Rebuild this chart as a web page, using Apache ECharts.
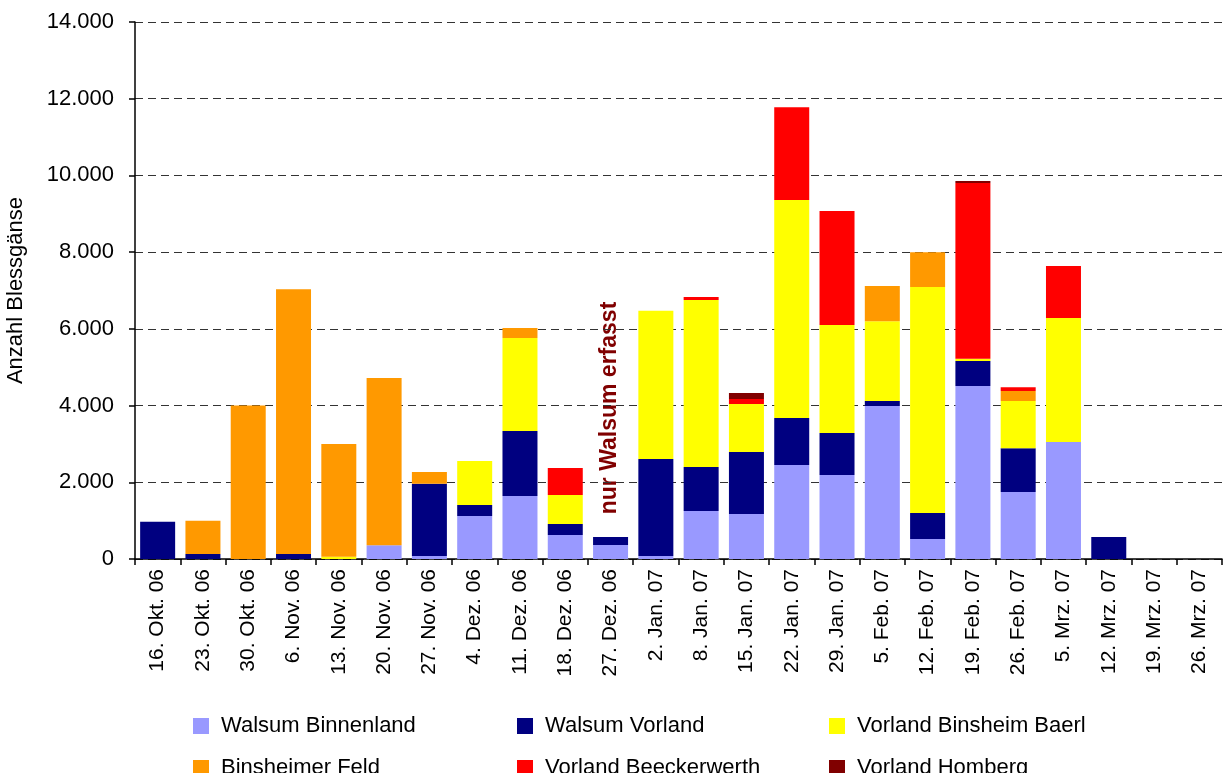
<!DOCTYPE html>
<html>
<head>
<meta charset="utf-8">
<script src="https://cdn.jsdelivr.net/npm/echarts@6/dist/echarts.min.js"></script>
<style>
  html, body { margin: 0; padding: 0; background: #fff; }
  #chart { width: 1226px; height: 773px; }
</style>
</head>
<body>
<div id="chart"></div>
<script>
// Zähltermine
const categories = ['16. Okt. 06','23. Okt. 06','30. Okt. 06','6. Nov. 06','13. Nov. 06','20. Nov. 06','27. Nov. 06',
  '4. Dez. 06','11. Dez. 06','18. Dez. 06','27. Dez. 06','2. Jan. 07','8. Jan. 07','15. Jan. 07','22. Jan. 07',
  '29. Jan. 07','5. Feb. 07','12. Feb. 07','19. Feb. 07','26. Feb. 07','5. Mrz. 07','12. Mrz. 07','19. Mrz. 07','26. Mrz. 07'];

const walsumBinnenland = [0,0,0,0,0,360,80,1120,1640,625,365,80,1250,1170,2450,2190,3990,520,4510,1750,3050,0,0,0];
const walsumVorland    = [970,130,0,130,0,0,1880,290,1700,285,210,2530,1150,1620,1225,1095,130,680,650,1140,0,575,0,0];
const binsheimBaerl    = [0,0,0,0,60,0,0,1145,2420,760,0,3860,4350,1250,5685,2815,2080,5890,60,1230,3230,0,0,0];
const binsheimerFeld   = [0,870,4000,6900,2940,4360,310,0,260,0,0,0,0,0,0,0,920,910,0,260,0,0,0,0];
const beeckerwerth     = [0,0,0,0,0,0,0,0,0,700,0,0,80,130,2420,2970,0,0,4580,100,1360,0,0,0];
const homberg          = [0,0,0,0,0,0,0,0,0,0,0,0,0,160,0,0,0,0,55,0,0,0,0,0];

const yTicks = [0, 2000, 4000, 6000, 8000, 10000, 12000, 14000];

const FONT = '"Liberation Sans", Arial, sans-serif';

const seriesDefs = [
  {name: 'Walsum Binnenland', data: walsumBinnenland, color: '#9999FF'},
  {name: 'Walsum Vorland', data: walsumVorland, color: '#000080'},
  {name: 'Vorland Binsheim Baerl', data: binsheimBaerl, color: '#FFFF00'},
  {name: 'Binsheimer Feld', data: binsheimerFeld, color: '#FF9900'},
  {name: 'Vorland Beeckerwerth', data: beeckerwerth, color: '#FF0000'},
  {name: 'Vorland Homberg', data: homberg, color: '#800000'}
];

// Legende: 3 Spalten, 2 Zeilen
const legendPos = [[188,710],[512,710],[824,710],[188,752],[512,752],[824,752]];

const chart = echarts.init(document.getElementById('chart'));

const option = {
  animation: false,
  textStyle: {fontFamily: FONT},
  grid: {left: 135, right: 4, top: 22, bottom: 214, outerBoundsMode: 'none', containLabel: false},
  legend: seriesDefs.map((s, i) => ({
    data: [s.name],
    left: legendPos[i][0],
    top: legendPos[i][1],
    icon: 'rect',
    itemWidth: 16,
    itemHeight: 16,
    itemGap: 0,
    textStyle: {fontSize: 22, color: '#000', fontFamily: FONT, padding: [0, 0, 0, 7]}
  })),
  xAxis: {
    type: 'category',
    data: categories,
    axisLine: {lineStyle: {color: '#000', width: 1.5}},
    axisTick: {show: true, interval: 0, length: 6, lineStyle: {color: '#000', width: 1.5}},
    axisLabel: {interval: 0, rotate: 90, fontSize: 21, color: '#000', margin: 10, fontFamily: FONT}
  },
  yAxis: {
    type: 'value',
    min: yTicks[0],
    max: yTicks[yTicks.length - 1],
    interval: 2000,
    name: 'Anzahl Blessgänse',
    nameLocation: 'middle',
    nameGap: 108,
    nameTextStyle: {fontSize: 22, color: '#000', fontFamily: FONT},
    axisLine: {show: true, lineStyle: {color: '#000', width: 1.5}},
    axisTick: {show: true, length: 6, lineStyle: {color: '#000', width: 1.5}},
    axisLabel: {
      fontSize: 22, color: '#000', margin: 21, fontFamily: FONT,
      formatter: v => String(v).replace(/\B(?=(\d{3})+(?!\d))/g, '.')
    },
    splitLine: {show: true, lineStyle: {color: '#333', type: [8, 5], width: 1}}
  },
  series: seriesDefs.map(s => ({
    name: s.name,
    type: 'bar',
    stack: 'total',
    data: s.data,
    barWidth: 35,
    itemStyle: {color: s.color}
  })),
  graphic: [{
    type: 'text',
    x: 610,
    y: 408,
    rotation: Math.PI / 2,
    style: {
      text: 'nur Walsum erfasst',
      fill: '#800000',
      font: 'bold 23px ' + FONT,
      align: 'center',
      verticalAlign: 'middle'
    }
  }]
};

chart.setOption(option);
</script>
</body>
</html>
